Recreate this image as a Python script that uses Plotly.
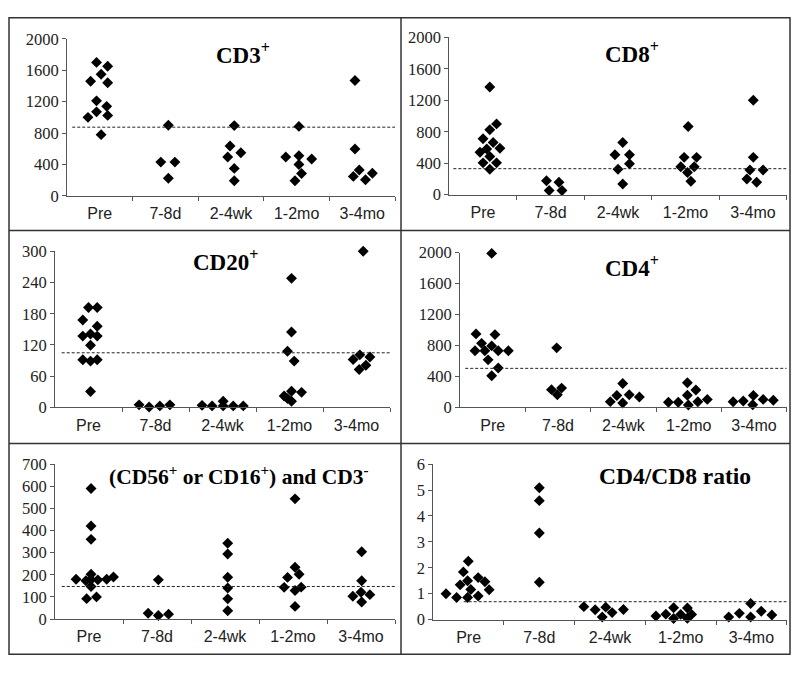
import plotly.graph_objects as go

W, H = 800, 674

categories = ["Pre", "7-8d", "2-4wk", "1-2mo", "3-4mo"]

# ---- CD3+ ----
cd3_values = [
    [1700, 1650, 1550, 1460, 1440, 1210, 1140, 1070, 1000, 1025, 780],
    [900, 430, 430, 225],
    [895, 635, 495, 550, 350, 193],
    [885, 495, 510, 470, 400, 285, 193],
    [1470, 598, 330, 248, 288, 205],
]
cd3_jitter = [
    [-0.05, 0.12, 0.02, -0.14, 0.12, -0.05, 0.105, -0.05, -0.18, 0.12, 0.02],
    [0.045, -0.07, 0.145, 0.045],
    [0.05, -0.015, -0.05, 0.15, 0.05, 0.05],
    [0.035, -0.165, 0.035, 0.23, 0.035, 0.075, -0.025],
    [-0.11, -0.11, -0.045, -0.135, 0.155, 0.05],
]
cd3_ref = 875
cd3_ticks = [0, 400, 800, 1200, 1600, 2000]

# ---- CD8+ ----
cd8_values = [
    [1370, 900, 825, 710, 664, 590, 540, 581, 486, 404, 404, 322],
    [177, 157, 53, 53],
    [664, 507, 507, 392, 322, 136],
    [866, 474, 474, 355, 355, 281, 169],
    [1200, 474, 313, 313, 198, 157],
]
cd8_jitter = [
    [0.10, 0.2, 0.10, 0.0, 0.15, 0.25, -0.045, 0.055, 0.10, 0.0, 0.2, 0.10],
    [-0.06, 0.125, -0.02, 0.17],
    [0.07, -0.045, 0.17, 0.17, 0.0, 0.07],
    [0.04, -0.02, 0.165, -0.07, 0.13, 0.03, 0.08],
    [0.005, 0.005, -0.045, 0.15, -0.09, 0.055],
]
cd8_ref = 330
cd8_ticks = [0, 400, 800, 1200, 1600, 2000]

# ---- CD20+ ----
cd20_values = [
    [192, 192, 168, 156, 137, 141, 137, 119.5, 91.5, 89, 91.5, 30.5],
    [5, 1, 3, 5],
    [4, 3, 12, 3, 3, 3],
    [248, 145, 108, 89, 31, 29, 22, 17, 12],
    [300, 92, 101, 97, 73, 81],
]
cd20_jitter = [
    [0.0, 0.13, -0.085, 0.13, -0.085, 0.03, 0.13, 0.03, -0.085, 0.03, 0.13, 0.03],
    [-0.245, -0.095, 0.065, 0.215],
    [-0.305, -0.155, 0.01, 0.01, 0.16, 0.31],
    [0.03, 0.03, -0.03, 0.07, 0.03, 0.18, -0.08, -0.03, 0.03],
    [0.1, -0.05, 0.05, 0.2, 0.04, 0.14],
]
cd20_ref = 105
cd20_ticks = [0, 60, 120, 180, 240, 300]

# ---- CD4+ ----
cd4_values = [
    [1990, 950, 941, 828, 795, 732, 732, 732, 732, 615, 510, 410],
    [770, 230, 250, 165],
    [75, 155, 310, 58, 163, 134],
    [67, 67, 320, 157, 226, 32, 73, 104],
    [73, 84, 155, 35, 104, 92],
]
cd4_jitter = [
    [-0.015, -0.255, 0.035, -0.17, -0.015, -0.27, -0.12, 0.085, 0.24, -0.07, 0.085, -0.015],
    [-0.02, -0.1, 0.055, -0.01],
    [-0.2, -0.1, -0.01, -0.01, 0.09, 0.245],
    [-0.31, -0.16, -0.02, -0.02, 0.11, -0.005, 0.14, 0.285],
    [-0.32, -0.165, -0.01, -0.02, 0.14, 0.295],
]
cd4_ref = 505
cd4_ticks = [0, 400, 800, 1200, 1600, 2000]

# ---- (CD56+ or CD16+) and CD3- ----
nk_values = [
    [590, 420, 360, 180, 202, 173, 177, 177, 180, 190, 147, 92, 100],
    [177, 26, 16, 22],
    [342, 294, 189, 140, 91, 37],
    [543, 234, 188, 202, 143, 129, 144, 57],
    [304, 173, 103, 121, 110, 77],
]
nk_jitter = [
    [0.03, 0.03, 0.03, -0.19, 0.03, -0.045, 0.13, 0.03, 0.26, 0.36, 0.03, -0.035, 0.11],
    [0.02, -0.13, 0.02, 0.17],
    [0.04, 0.04, 0.04, 0.04, 0.04, 0.04],
    [0.03, 0.03, -0.08, 0.09, -0.13, 0.03, 0.12, 0.03],
    [0.01, 0.01, -0.12, 0.0, 0.13, 0.01],
]
nk_ref = 147
nk_ticks = [0, 100, 200, 300, 400, 500, 600, 700]

# ---- CD4/CD8 ratio ----
ratio_values = [
    [2.25, 1.84, 1.5, 1.34, 1.62, 1.46, 1.16, 1.15, 1.0, 0.85, 0.85, 0.91],
    [5.09, 4.59, 3.34, 1.44],
    [0.5, 0.38, 0.1, 0.48, 0.27, 0.39],
    [0.14, 0.21, 0.46, 0.04, 0.2, 0.45, 0.2, 0.05],
    [0.1, 0.24, 0.62, 0.1, 0.32, 0.18],
]
ratio_jitter = [
    [-0.005, -0.075, -0.015, -0.12, 0.135, 0.23, 0.03, 0.29, -0.32, -0.17, -0.015, 0.135],
    [0, 0, 0, 0],
    [-0.37, -0.21, -0.11, -0.06, 0.03, 0.19],
    [-0.35, -0.21, -0.1, -0.1, 0.0, 0.095, 0.155, 0.095],
    [-0.32, -0.17, -0.01, -0.01, 0.14, 0.29],
]
ratio_ref = 0.69
ratio_ticks = [0, 1, 2, 3, 4, 5, 6]

# panel layout: (values, jitter, ref, ticks, title, plot box px [x0,x1,ytop,ybot],
#                title center px, title size, ref line start)
panels = [
    (cd3_values, cd3_jitter, cd3_ref, cd3_ticks, "CD3<sup>+</sup>", (67, 395, 30.7, 192.3), (243, 46), 23, -0.42),
    (cd8_values, cd8_jitter, cd8_ref, cd8_ticks, "CD8<sup>+</sup>", (449.3, 786.7, 29.3, 191), (632, 45), 23, -0.44),
    (cd20_values, cd20_jitter, cd20_ref, cd20_ticks, "CD20<sup>+</sup>", (55, 390, 249.3, 410), (226, 259), 23, -0.4),
    (cd4_values, cd4_jitter, cd4_ref, cd4_ticks, "CD4<sup>+</sup>", (460, 786.7, 250.7, 410), (632, 265), 23, -0.42),
    (nk_values, nk_jitter, nk_ref, nk_ticks,
     "(CD56<sup>+</sup> or CD16<sup>+</sup>) and CD3<sup>-</sup>", (55, 395, 468.3, 627.7), (239, 480), 21.5, -0.4),
    (ratio_values, ratio_jitter, ratio_ref, ratio_ticks, "CD4/CD8 ratio", (433.3, 786.7, 468.3, 628.3), (675, 481), 23.5, -0.07),
]

fig = go.Figure()
layout = dict(
    width=W, height=H, margin=dict(l=0, r=0, t=0, b=0),
    paper_bgcolor="white", plot_bgcolor="white", showlegend=False,
    hovermode=False, shapes=[], annotations=[],
)

AX = "#555555"
for i, (vals, jit, ref, ticks, title, box, tpos, tsize, refstart) in enumerate(panels):
    n = i + 1
    xs, ys = [], []
    for k, (cv, cj) in enumerate(zip(vals, jit)):
        for v, j in zip(cv, cj):
            xs.append(k + j)
            ys.append(v)
    fig.add_trace(go.Scatter(
        x=xs, y=ys, mode="markers", xaxis=f"x{n}", yaxis=f"y{n}",
        marker=dict(symbol="diamond", size=8.4, color="black", line=dict(width=0)),
        cliponaxis=False, hoverinfo="skip",
    ))
    x0, x1, yt, yb = box
    xa = "xaxis" if n == 1 else f"xaxis{n}"
    ya = "yaxis" if n == 1 else f"yaxis{n}"
    layout[xa] = dict(
        domain=[x0 / W, x1 / W], anchor=f"y{n}", range=[-0.5, 4.5],
        tickmode="array", tickvals=list(range(5)), ticktext=categories,
        ticks="", showgrid=False, zeroline=False, showline=True,
        linecolor=AX, linewidth=1, ticklabelstandoff=3,
        tickfont=dict(family="Liberation Sans, Arial, sans-serif", size=16, color="#222"),
        minor=dict(tickmode="array", tickvals=[0.5, 1.5, 2.5, 3.5, 4.5], ticks="outside",
                   ticklen=4, tickcolor=AX, tickwidth=1, showgrid=False),
        fixedrange=True,
    )
    layout[ya] = dict(
        domain=[1 - yb / H, 1 - yt / H], anchor=f"x{n}", range=[0, ticks[-1]],
        tickmode="array", tickvals=ticks, ticks="outside", ticklen=4, tickcolor=AX,
        showgrid=False, zeroline=False, showline=True, linecolor=AX, linewidth=1,
        tickfont=dict(family="Liberation Serif, Times New Roman, serif", size=16.5, color="#222"),
        fixedrange=True,
    )
    layout["shapes"].append(dict(
        type="line", xref=f"x{n}", yref=f"y{n}", x0=refstart, x1=4.5, y0=ref, y1=ref,
        line=dict(color="#222", width=1, dash="3px,2px"),
    ))
    layout["annotations"].append(dict(
        text=f"<b>{title}</b>", xref="paper", yref="paper",
        x=tpos[0] / W, y=1 - tpos[1] / H, xanchor="center", yanchor="middle",
        showarrow=False,
        font=dict(family="Liberation Serif, Times New Roman, serif", size=tsize, color="black"),
    ))

# panel frame
BC = "#333333"
def pl(x0, y0, x1, y1):
    return dict(type="line", xref="paper", yref="paper",
                x0=x0 / W, x1=x1 / W, y0=1 - y0 / H, y1=1 - y1 / H,
                line=dict(color=BC, width=1.5))
layout["shapes"] += [
    dict(type="rect", xref="paper", yref="paper", x0=9 / W, x1=790 / W,
         y0=1 - 664 / H, y1=1 - 9 / H, line=dict(color=BC, width=1.5)),
    pl(401, 9, 401, 664),
    pl(9, 228, 790, 228),
    pl(9, 447, 790, 447),
]

fig.update_layout(**layout)
fig.write_html(
    "out.html",
    config={"displayModeBar": False, "staticPlot": True},
    post_script="document.body.style.margin='0';document.body.style.overflow='hidden';",
)
